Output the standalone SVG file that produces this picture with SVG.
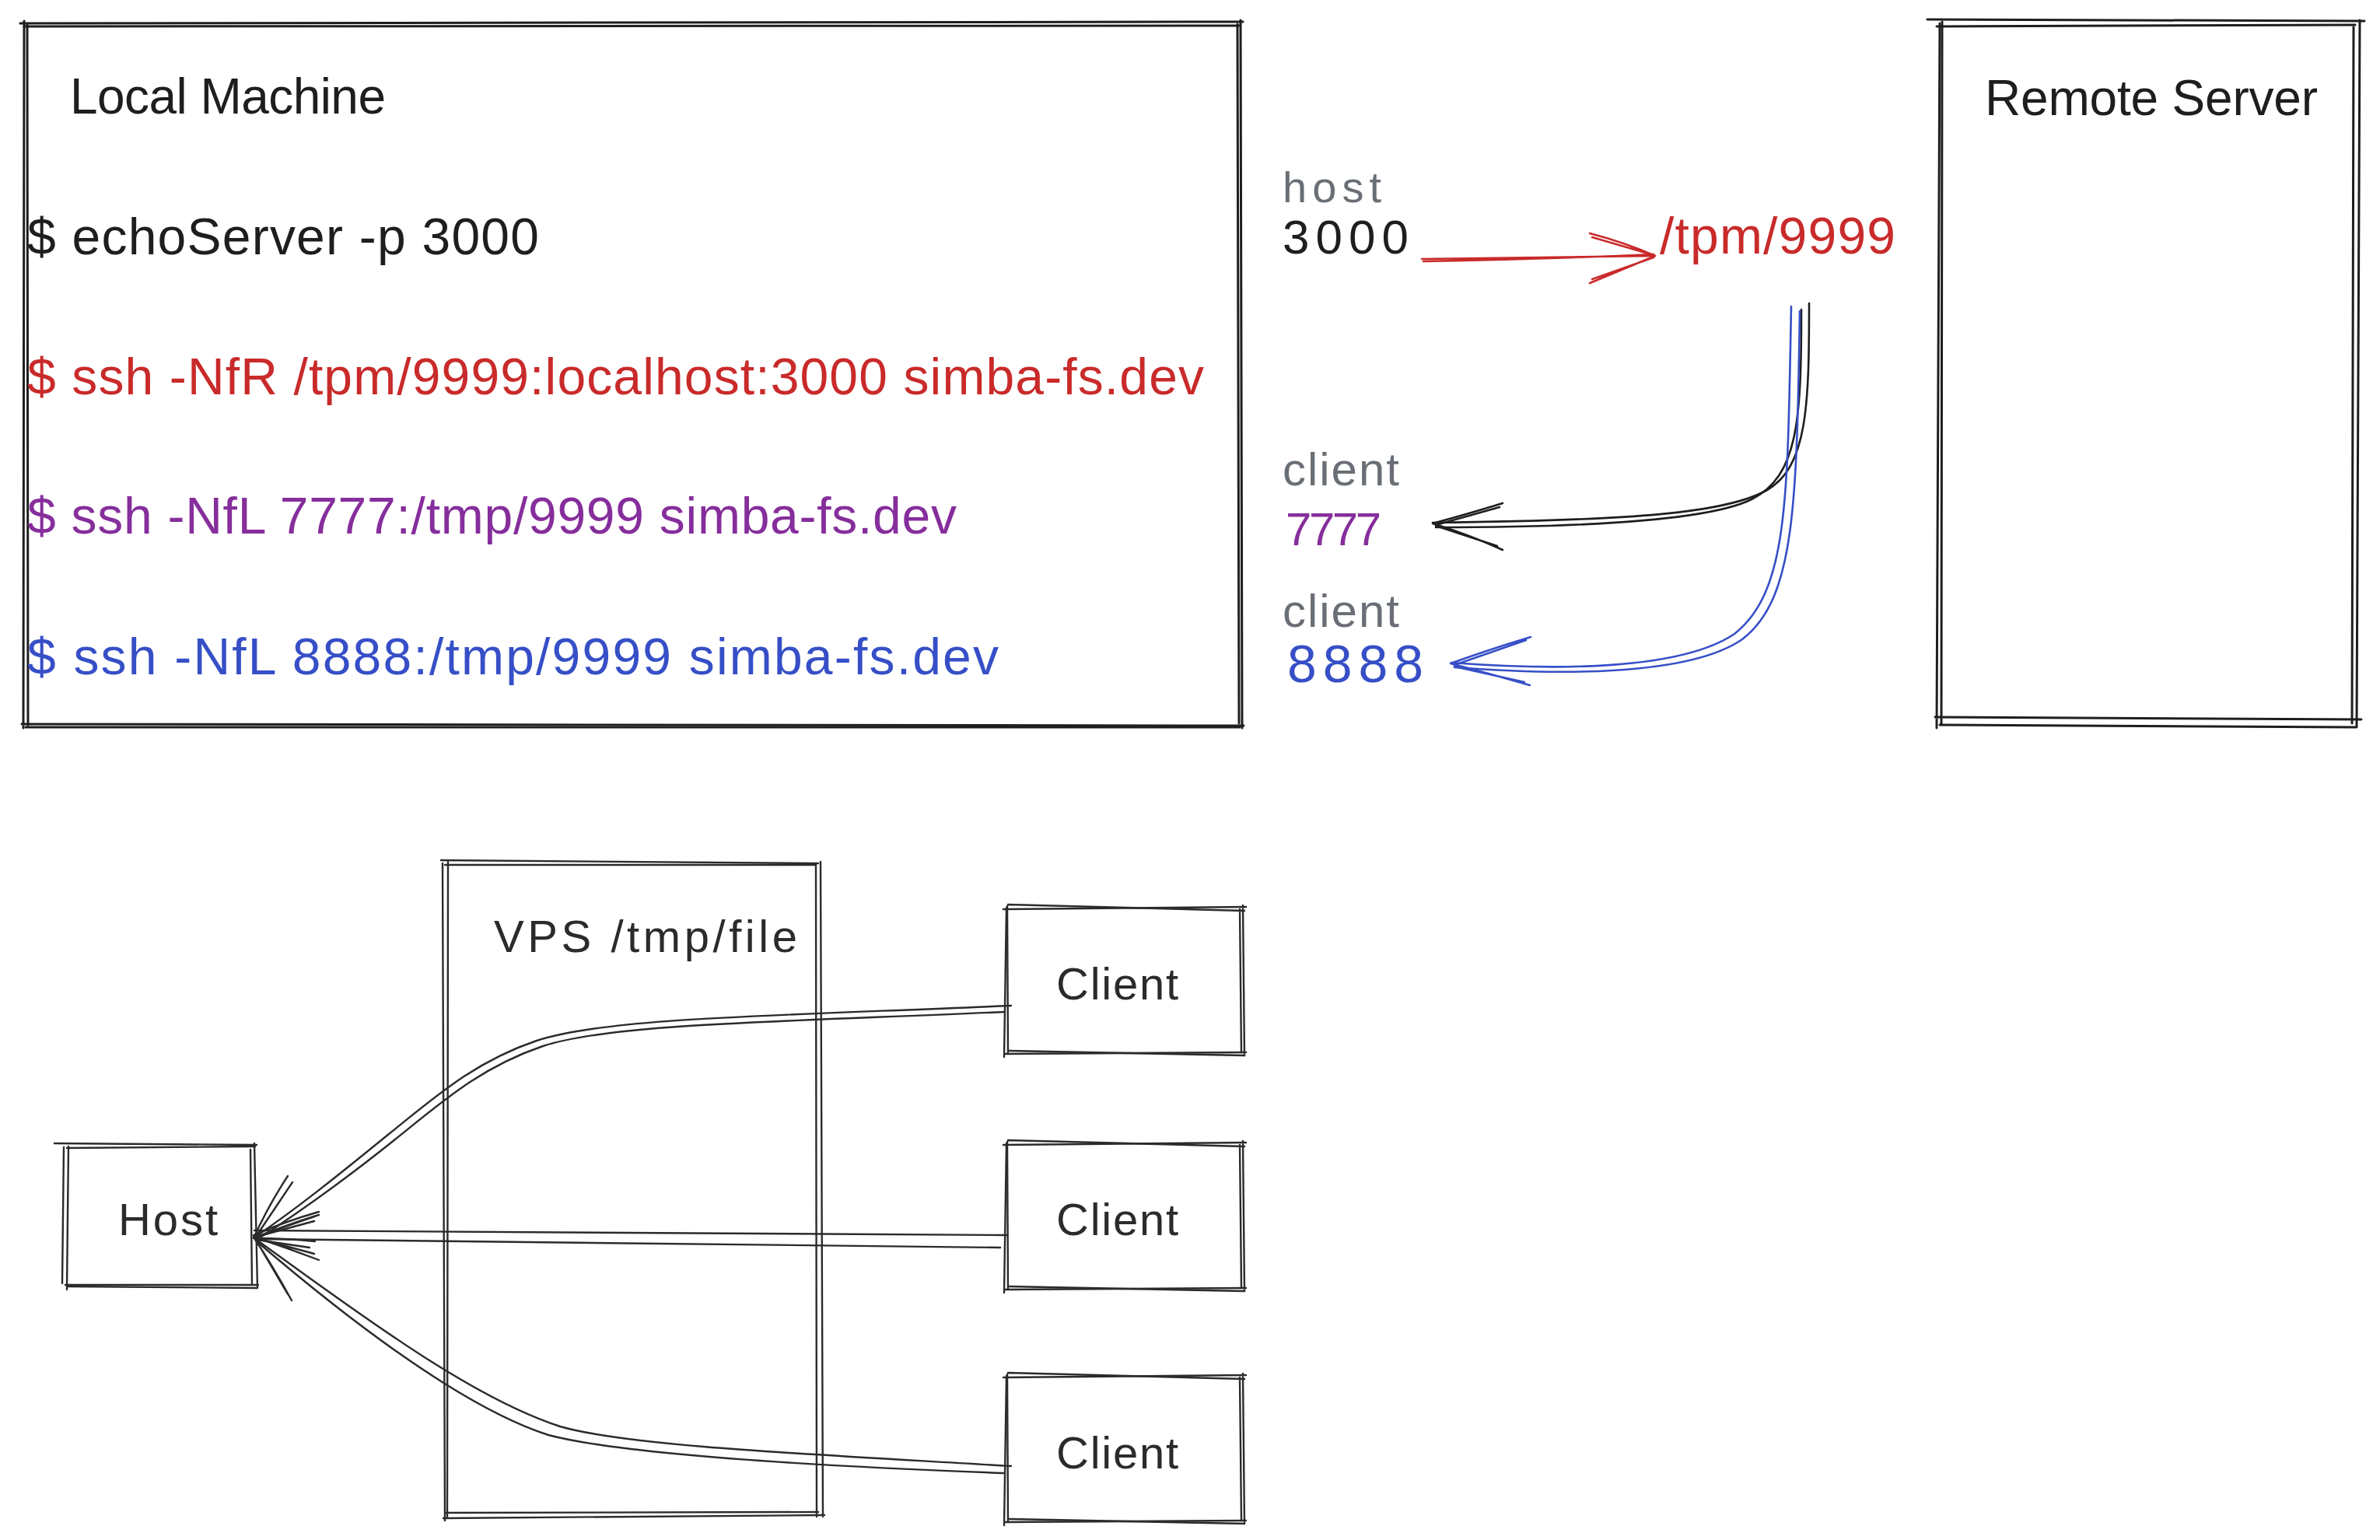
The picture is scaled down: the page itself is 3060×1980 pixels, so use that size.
<svg xmlns="http://www.w3.org/2000/svg" xmlns:xlink="http://www.w3.org/1999/xlink" width="3060" height="1980" viewBox="0 0 3060 1980">
<style>
.t{font-family:"Liberation Sans",Arial,sans-serif;}
.box{fill:none;stroke:#1e1e1e;stroke-width:3;stroke-linecap:round;stroke-linejoin:round;}
.box2{fill:none;stroke:#2b2b2b;stroke-width:2.4;stroke-linecap:round;stroke-linejoin:round;}
.ln{fill:none;stroke-width:2.6;stroke-linecap:round;stroke-linejoin:round;}
.blk{stroke:#1e1e1e;}
.red{stroke:#c92a2a;}
.blu{stroke:#364fc7;}
.gry{stroke:#2b2b2b;stroke-width:2.4;}
</style>
<defs>
<g id="clientBox">
<path class="box2" d="M-2 2 L310 -1 M306 -3 L308 190 M310 186 L0 188 M-1 192 L2 0"/>
<path class="box2" d="M4 -4 L308 4 M302 2 L304 186 M308 190 L6 184 M4 188 L3 -2"/>
</g>
</defs>
<rect width="3060" height="1980" fill="#ffffff"/>

<g id="local-machine">
<path class="box" d="M26 30 L1598 28 M1595 26 L1597 936 M1599 933 L28 931 M30 936 L31 27"/>
<path class="box" d="M31 34 L1593 33 M1591 31 L1593 930 M1594 935 L33 935 M36 932 L35 32"/>
<text class="t" x="90" y="146" font-size="64" fill="#1e1e1e" textLength="406">Local Machine</text>
<text class="t" x="35" y="327" font-size="66" fill="#1e1e1e" textLength="658">$ echoServer -p 3000</text>
<text class="t" x="35" y="507" font-size="66" fill="#c92a2a" textLength="1513">$ ssh -NfR /tpm/9999:localhost:3000 simba-fs.dev</text>
<text class="t" x="35" y="686" font-size="66" fill="#862e9c" textLength="1195">$ ssh -NfL 7777:/tmp/9999 simba-fs.dev</text>
<text class="t" x="35" y="867" font-size="66" fill="#364fc7" textLength="1249">$ ssh -NfL 8888:/tmp/9999 simba-fs.dev</text>
</g>

<g id="remote-server">
<path class="box" d="M2478 25 L3040 27 M3034 26 L3030 934 M3036 925 L2488 922 M2490 936 L2494 30"/>
<path class="box" d="M2490 34 L3028 32 M3026 33 L3024 930 M3030 935 L2494 932 M2496 932 L2497 28"/>
<text class="t" x="2552" y="148" font-size="64" fill="#1e1e1e" textLength="428">Remote Server</text>
</g>

<g id="port-host-3000">
<text class="t" x="1649" y="260" font-size="56" fill="#6a6f75" textLength="127">host</text>
<text class="t" x="1649" y="326" font-size="62" fill="#1e1e1e" textLength="162">3000</text>
</g>
<g id="socket-tpm-9999">
<text class="t" x="2134" y="326" font-size="66" fill="#c92a2a" textLength="303">/tpm/9999</text>
</g>
<g id="port-client-7777">
<text class="t" x="1649" y="624" font-size="60" fill="#6a6f75" textLength="150">client</text>
<text class="t" x="1653" y="701" font-size="60" fill="#862e9c" textLength="123">7777</text>
</g>
<g id="port-client-8888">
<text class="t" x="1649" y="806" font-size="60" fill="#6a6f75" textLength="150">client</text>
<text class="t" x="1655" y="877" font-size="68" fill="#364fc7" textLength="175">8888</text>
</g>

<g id="vps">
<path class="box2" d="M567 1106 L1052 1110 M1055 1108 L1058 1950 M1060 1948 L570 1952 M572 1955 L569 1110"/>
<path class="box2" d="M572 1112 L1048 1112 M1049 1110 L1050 1950 M1052 1944 L573 1945 M575 1950 L576 1108"/>
<text class="t" x="635" y="1224" font-size="58" fill="#2b2b2b" textLength="390">VPS /tmp/file</text>
</g>

<g id="host">
<path class="box2" d="M70 1470 L330 1472 M327 1470 L331 1656 M332 1652 L84 1652 M86 1658 L88 1474"/>
<path class="box2" d="M86 1476 L328 1474 M322 1478 L324 1650 M330 1656 L87 1654 M80 1650 L82 1475"/>
<text class="t" x="152" y="1588" font-size="58" fill="#2b2b2b" textLength="128">Host</text>
</g>

<g id="client-1">
<use xlink:href="#clientBox" transform="translate(1292,1167)"/>
<text class="t" x="1358" y="1285" font-size="58" fill="#2b2b2b" textLength="157">Client</text>
</g>
<g id="client-2">
<use xlink:href="#clientBox" transform="translate(1292,1470)"/>
<text class="t" x="1358" y="1588" font-size="58" fill="#2b2b2b" textLength="157">Client</text>
</g>
<g id="client-3">
<use xlink:href="#clientBox" transform="translate(1292,1769)"/>
<text class="t" x="1358" y="1888" font-size="58" fill="#2b2b2b" textLength="157">Client</text>
</g>

<g id="connectors">
<!-- host 3000 -> /tpm/9999 -->
<path class="ln red" d="M1828 333 Q1980 331 2128 329 M1830 336 Q1990 333 2126 327"/>
<path class="ln red" d="M2044 300 Q2090 312 2128 329 M2047 305 L2126 328 M2044 364 Q2090 345 2128 329 M2047 359 L2126 331"/>
<!-- /tpm/9999 -> client 7777 -->
<path class="ln blk" d="M2326 390 C2326 520 2324 600 2272 630 C2220 660 2100 669 1842 672"/>
<path class="ln blk" d="M2316 398 C2316 540 2312 612 2252 642 C2200 668 2050 678 1846 678"/>
<path class="ln blk" d="M1932 647 Q1890 660 1842 673 M1928 652 L1846 675 M1932 707 Q1890 688 1842 673 M1925 702 L1846 676"/>
<!-- /tpm/9999 -> client 8888 -->
<path class="ln blu" d="M2303 394 C2298 640 2300 760 2230 815 C2160 862 2000 862 1866 852"/>
<path class="ln blu" d="M2314 400 C2310 650 2308 770 2240 822 C2170 870 2000 868 1870 858"/>
<path class="ln blu" d="M1968 819 Q1915 835 1865 853 M1962 823 L1870 855 M1967 881 Q1915 866 1865 853 M1960 877 L1870 857"/>

<!-- clients -> host -->
<path class="ln gry" d="M1300 1293 C1000 1306 780 1308 690 1338 C610 1365 560 1410 500 1458 C430 1515 380 1555 327 1591"/>
<path class="ln gry" d="M1292 1301 C1000 1314 786 1316 698 1345 C618 1372 568 1417 508 1465 C438 1521 386 1558 330 1594"/>
<path class="ln gry" d="M1295 1588 L327 1582 M1286 1604 L330 1593"/>
<path class="ln gry" d="M1300 1885 C1050 1870 810 1860 720 1834 C600 1795 450 1680 327 1592"/>
<path class="ln gry" d="M1290 1894 C1050 1885 800 1870 705 1845 C590 1808 440 1690 330 1596"/>
<!-- arrowheads at host -->
<path class="ln gry" d="M370 1512 Q345 1550 326 1592 M376 1520 L329 1590 M410 1562 Q368 1575 326 1592 M404 1570 L330 1590"/>
<path class="ln gry" d="M410 1558 Q368 1570 326 1588 M404 1564 L330 1590 M410 1620 Q368 1604 326 1590 M404 1612 L330 1592"/>
<path class="ln gry" d="M405 1596 Q365 1592 327 1592 M398 1604 L330 1594 M375 1672 Q352 1630 327 1592 M370 1664 L330 1596"/>
</g>
</svg>
